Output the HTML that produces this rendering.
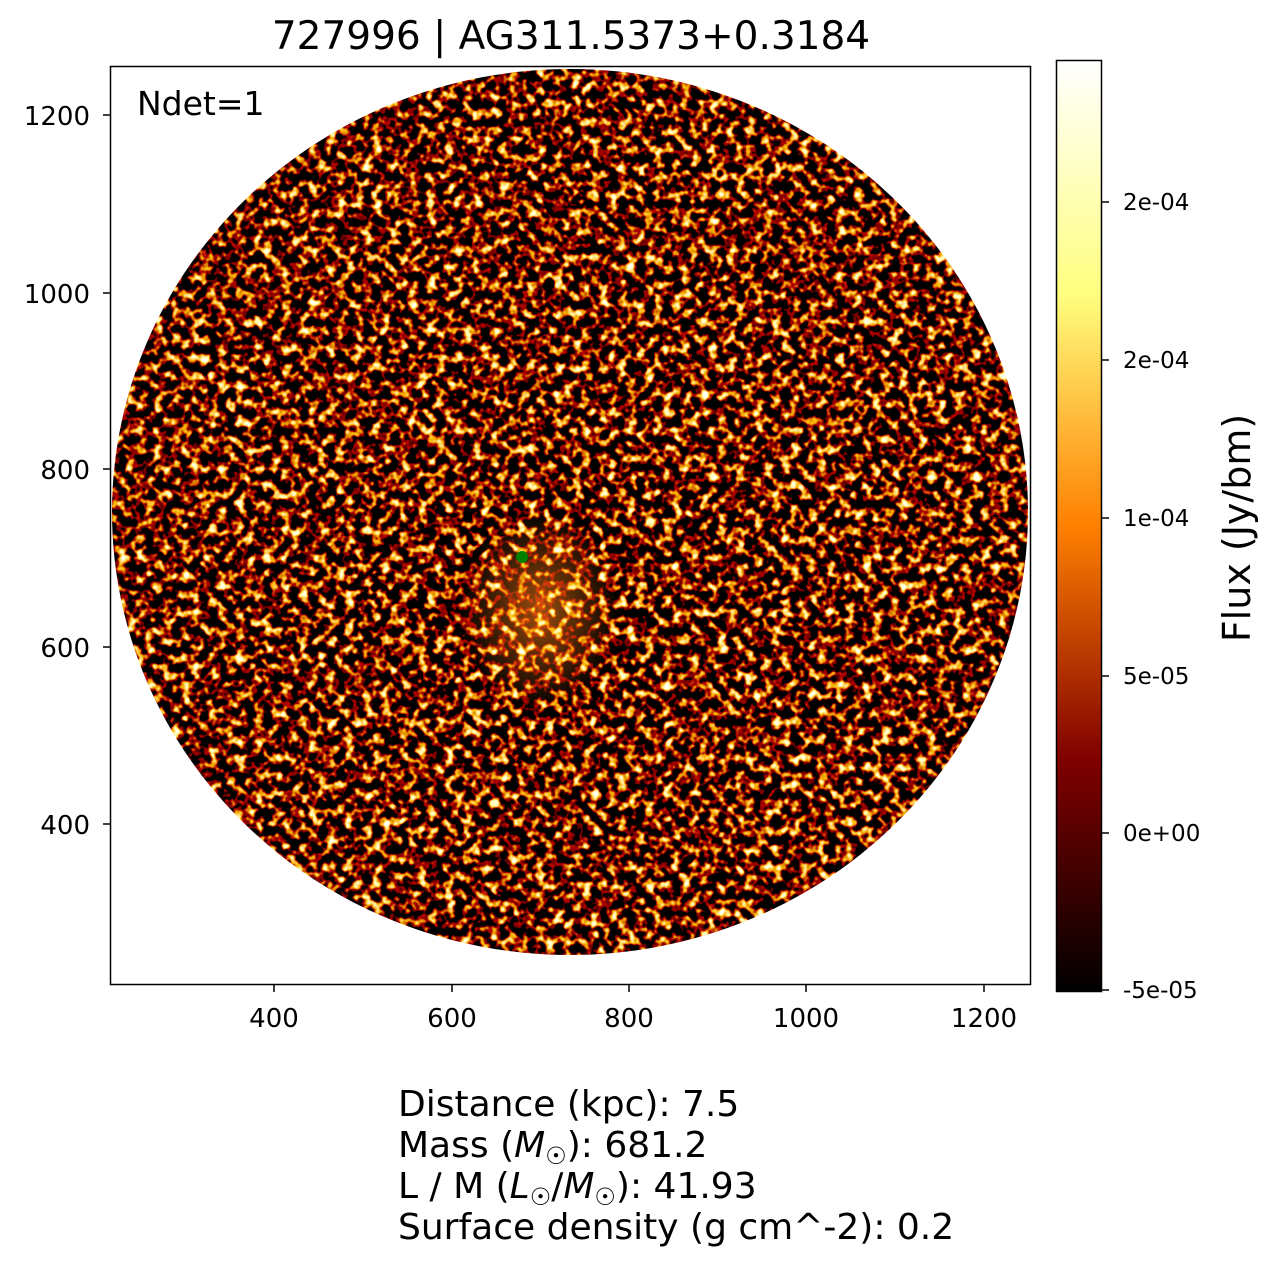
<!DOCTYPE html>
<html><head><meta charset="utf-8"><style>
html,body{margin:0;padding:0;background:#fff;}
svg{display:block;font-family:"DejaVu Sans","Liberation Sans",sans-serif;}
</style></head><body>
<svg width="1274" height="1267" viewBox="0 0 1274 1267" xmlns="http://www.w3.org/2000/svg">
<defs>
<filter id="n" x="0" y="0" width="100%" height="100%" filterUnits="userSpaceOnUse">
<feTurbulence type="fractalNoise" baseFrequency="0.11" numOctaves="2" seed="7" result="t"/>
<feColorMatrix type="matrix" values="1 0 0 0 0  1 0 0 0 0  1 0 0 0 0  0 0 0 0 1"/>
<feComponentTransfer>
<feFuncR type="linear" slope="5" intercept="-2.3"/>
<feFuncG type="linear" slope="5" intercept="-2.8"/>
<feFuncB type="linear" slope="5" intercept="-3.3"/>
</feComponentTransfer>
</filter>
<clipPath id="c"><ellipse cx="570" cy="512" rx="458" ry="443"/></clipPath>
<linearGradient id="cb" x1="0" y1="1" x2="0" y2="0">
<stop offset="0" stop-color="#000"/>
<stop offset="0.25" stop-color="#800000"/>
<stop offset="0.5" stop-color="#ff8000"/>
<stop offset="0.75" stop-color="#ffff80"/>
<stop offset="1" stop-color="#fff"/>
</linearGradient>
<radialGradient id="g"><stop offset="0" stop-color="#c06010" stop-opacity="0.8"/><stop offset="1" stop-color="#c06010" stop-opacity="0"/></radialGradient>
</defs>
<text x="571" y="49" font-size="39" text-anchor="middle">727996 | AG311.5373+0.3184</text>
<g clip-path="url(#c)">
<rect x="110" y="66" width="921" height="919" fill="#000" filter="url(#n)"/>
<ellipse cx="540" cy="610" rx="80" ry="100" fill="url(#g)" style="mix-blend-mode:screen"/>
</g>
<circle cx="522" cy="557" r="6" fill="#008000"/>
<rect x="110.5" y="66.5" width="920" height="918" fill="none" stroke="#000" stroke-width="1.5"/>
<text x="137" y="115" font-size="33">Ndet=1</text>
<g stroke="#000" stroke-width="1.5">
<line x1="274" y1="985" x2="274" y2="992"/><line x1="452" y1="985" x2="452" y2="992"/><line x1="629" y1="985" x2="629" y2="992"/><line x1="806" y1="985" x2="806" y2="992"/><line x1="984" y1="985" x2="984" y2="992"/>
<line x1="103" y1="115" x2="110" y2="115"/><line x1="103" y1="293" x2="110" y2="293"/><line x1="103" y1="469" x2="110" y2="469"/><line x1="103" y1="647" x2="110" y2="647"/><line x1="103" y1="824" x2="110" y2="824"/>
</g>
<g font-size="26" text-anchor="middle">
<text x="274" y="1027">400</text><text x="452" y="1027">600</text><text x="629" y="1027">800</text><text x="806" y="1027">1000</text><text x="984" y="1027">1200</text>
</g>
<g font-size="26" text-anchor="end">
<text x="90" y="125">1200</text><text x="90" y="303">1000</text><text x="90" y="479">800</text><text x="90" y="657">600</text><text x="90" y="834">400</text>
</g>
<rect x="1056" y="60" width="46" height="932" fill="url(#cb)"/>
<rect x="1056.5" y="60.5" width="45" height="931" fill="none" stroke="#000" stroke-width="1.5"/>
<g stroke="#000" stroke-width="1.5">
<line x1="1102" y1="202" x2="1109" y2="202"/><line x1="1102" y1="360" x2="1109" y2="360"/><line x1="1102" y1="518" x2="1109" y2="518"/><line x1="1102" y1="676" x2="1109" y2="676"/><line x1="1102" y1="833" x2="1109" y2="833"/><line x1="1102" y1="990" x2="1109" y2="990"/>
</g>
<g font-size="23">
<text x="1123" y="210">2e-04</text><text x="1123" y="368">2e-04</text><text x="1123" y="526">1e-04</text><text x="1123" y="684">5e-05</text><text x="1123" y="841">0e+00</text><text x="1123" y="998">-5e-05</text>
</g>
<text transform="translate(1250,528) rotate(-90)" font-size="38" text-anchor="middle">Flux (Jy/bm)</text>
<g font-size="36">
<text x="398" y="1116">Distance (kpc): 7.5</text>
<text x="398" y="1157">Mass (<tspan font-style="italic">M</tspan><tspan font-size="24" dy="7">☉</tspan><tspan dy="-7">): 681.2</tspan></text>
<text x="398" y="1198">L / M (<tspan font-style="italic">L</tspan><tspan font-size="24" dy="7">☉</tspan><tspan dy="-7">/</tspan><tspan font-style="italic">M</tspan><tspan font-size="24" dy="7">☉</tspan><tspan dy="-7">): 41.93</tspan></text>
<text x="398" y="1239">Surface density (g cm^-2): 0.2</text>
</g>
</svg>
</body></html>
